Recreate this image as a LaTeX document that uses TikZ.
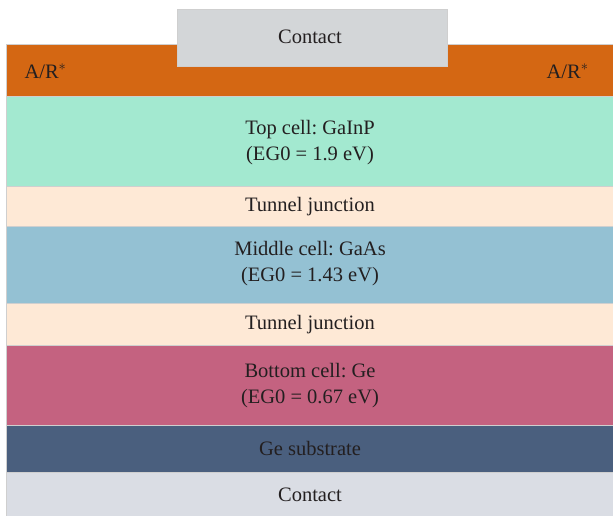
\documentclass[tikz,border=0pt]{standalone}
\usepackage{fontspec}
\setmainfont{Liberation Serif}
\frenchspacing
\definecolor{arc}{HTML}{D46713}
\definecolor{topc}{HTML}{A3E9D0}
\definecolor{tunnel}{HTML}{FEE9D6}
\definecolor{midc}{HTML}{94C1D3}
\definecolor{botc}{HTML}{C46280}
\definecolor{subst}{HTML}{4A5F7E}
\definecolor{backc}{HTML}{DADDE4}
\definecolor{frontc}{HTML}{D3D6D8}
\definecolor{edge}{HTML}{CFCFCF}
\definecolor{ink}{HTML}{231F20}
\tikzset{
  layer/.style={draw=edge, line width=1pt, anchor=north west, minimum width=609pt,
    inner sep=0pt, outer sep=0pt},
  lbl/.style={text=ink, font=\fontsize{20.5}{26}\selectfont, align=center},
}
\begin{document}
\begin{tikzpicture}[x=1pt,y=-1pt]
\useasboundingbox[fill=white] (0,0) rectangle (613,516);
% stack of layers, top to bottom
\node[layer, fill=arc, minimum height=52pt] (ar) at (6,45) {};
\node[layer, fill=topc, minimum height=89pt] (top) at (6,97) {};
\node[layer, fill=tunnel, minimum height=40pt] (tj1) at (6,186) {};
\node[layer, fill=midc, minimum height=77pt] (mid) at (6,226) {};
\node[layer, fill=tunnel, minimum height=42pt] (tj2) at (6,303) {};
\node[layer, fill=botc, minimum height=80pt] (bot) at (6,345) {};
\node[layer, fill=subst, minimum height=47pt] (sub) at (6,425) {};
\node[layer, fill=backc, minimum height=48pt] (back) at (6,472) {};
% front contact sitting on the coating
\node[draw=edge, line width=1pt, fill=frontc, anchor=north west, minimum width=270pt,
  minimum height=57pt, inner sep=0pt] (front) at (177,9) {};
% labels
\node[lbl] (tfront) at (310,37) {Contact};
\node[lbl, anchor=west] (arl) at (21,71) {A/R$^{*}$};
\node[lbl, anchor=east] (arr) at (592,71) {A/R$^{*}$};
\node[lbl] (ttop) at (310,143) {Top cell: GaInP\\(EG0 = 1.9 eV)};
\node[lbl] (ttj1) at (310,207) {Tunnel junction};
\node[lbl] (tmid) at (310,264) {Middle cell: GaAs\\(EG0 = 1.43 eV)};
\node[lbl] (ttj2) at (310,325) {Tunnel junction};
\node[lbl] (tbot) at (310,386) {Bottom cell: Ge\\(EG0 = 0.67 eV)};
\node[lbl] (tsub) at (310,448) {Ge substrate};
\node[lbl] (tback) at (310,494.5) {Contact};
\end{tikzpicture}
\end{document}
